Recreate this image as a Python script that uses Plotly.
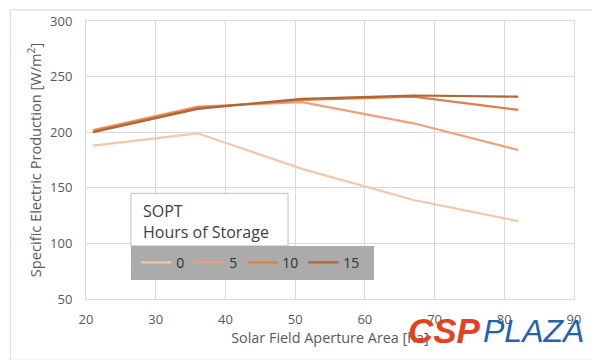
import plotly.graph_objects as go

area = [21, 36, 51, 67, 82]
storage_labels = ["0", "5", "10", "15"]
prod_0 = [188, 199, 167, 139, 120]
prod_5 = [202, 223, 227, 208, 184]
prod_10 = [201, 222, 229, 232, 220]
prod_15 = [200, 221, 230, 233, 232]
series = [prod_0, prod_5, prod_10, prod_15]
colors = ["#F5C6AA", "#EEA178", "#DE7E45", "#AE6537"]

fig = go.Figure()
for name, ys, c in zip(storage_labels, series, colors):
    fig.add_trace(go.Scatter(x=area, y=ys, mode="lines", name=name,
                             line=dict(color=c, width=2.2)))

grid = "#D9D9D9"
tickfont = dict(family="Open Sans, Liberation Sans, sans-serif", size=13, color="#595959")
fig.update_layout(
    width=600, height=360,
    margin=dict(l=78, r=34, t=13, b=69, autoexpand=False),
    paper_bgcolor="white", plot_bgcolor="white",
    font=dict(family="Open Sans, Liberation Sans, sans-serif", color="#595959"),
    xaxis=dict(range=[20, 90], dtick=10, showgrid=True, gridcolor=grid, gridwidth=1,
               showline=True, mirror=True, linecolor=grid, zeroline=False,
               tickfont=tickfont, ticks="outside", ticklen=8, tickcolor="rgba(0,0,0,0)",
               title=dict(text="Solar Field Aperture Area [ha]", font=dict(size=14.4, color="#595959"), standoff=4)),
    yaxis=dict(range=[50, 300], dtick=50, showgrid=True, gridcolor=grid, gridwidth=1,
               showline=True, mirror=True, linecolor=grid, zeroline=False,
               tickfont=tickfont, ticks="outside", ticklen=10, tickcolor="rgba(0,0,0,0)",
               title=dict(text="Specific Electric Production [W/m<sup>2</sup>]", font=dict(size=14.6, color="#595959"), standoff=4)),
    legend=dict(orientation="h", x=0.103, y=0.13, xanchor="left", yanchor="middle",
                bgcolor="rgba(0,0,0,0)", font=dict(size=14, color="#303030"),
                itemwidth=30, tracegroupgap=0),
    showlegend=True,
)

fig.add_shape(type="rect", xref="paper", yref="paper", x0=-0.155, x1=1.06, y0=-0.22, y1=1.04,
              line=dict(color="#D9D9D9", width=1), fillcolor="rgba(0,0,0,0)", layer="below")
fig.add_shape(type="rect", xref="paper", yref="paper", x0=0.092, x1=0.414, y0=0.191, y1=0.38,
              line=dict(color="#BFBFBF", width=1), fillcolor="white", layer="above")
fig.add_shape(type="rect", xref="paper", yref="paper", x0=0.092, x1=0.590, y0=0.068, y1=0.191,
              line=dict(width=0), fillcolor="#ABABAB", layer="above")
fig.add_annotation(xref="paper", yref="paper", x=0.112, y=0.362, xanchor="left", yanchor="top",
                   text="SOPT<br>Hours of Storage", showarrow=False, align="left",
                   font=dict(size=16, color="#404040"))
fig.add_annotation(xref="paper", yref="paper", x=0.655, y=-0.115, xanchor="left", yanchor="middle",
                   text="<b><i>CSP</i></b>", showarrow=False,
                   font=dict(family="Liberation Sans, sans-serif", size=35, color="#E8401F"))
fig.add_annotation(xref="paper", yref="paper", x=0.81, y=-0.115, xanchor="left", yanchor="middle",
                   text="<i>PLAZA</i>", showarrow=False,
                   font=dict(family="Liberation Sans, sans-serif", size=32, color="#2563AE"))

fig.write_html("out.html")
